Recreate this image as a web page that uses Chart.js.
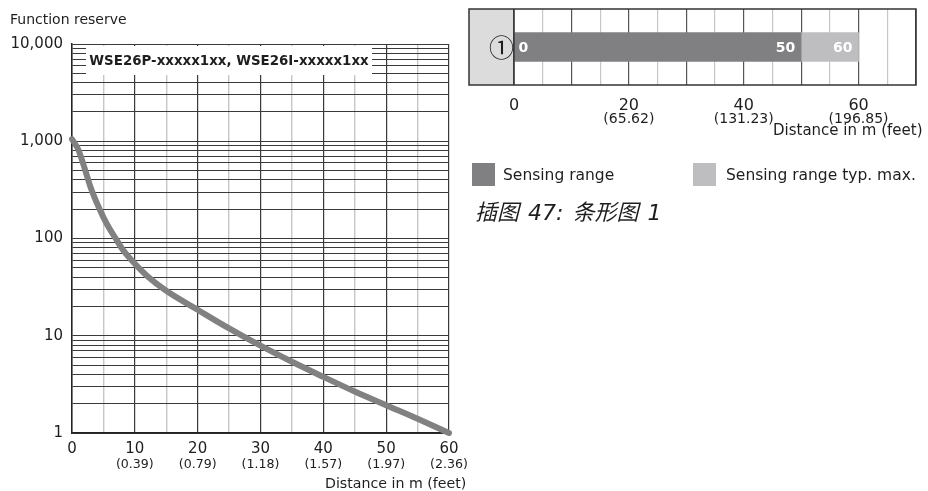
<!DOCTYPE html>
<html>
<head>
<meta charset="utf-8">
<script src="https://cdn.jsdelivr.net/npm/chart.js@4/dist/chart.umd.min.js"></script>
<style>
  body { margin: 0; background: #fff; font-family: "DejaVu Sans", sans-serif; color: #1e1e1e; }
  #wrap { position: relative; width: 928px; height: 491px; overflow: hidden; }
  .txt { position: absolute; white-space: nowrap; }
  .sq { position: absolute; width: 23px; height: 23px; }
</style>
</head>
<body>
<div id="wrap">
  <div style="position:absolute;left:0;top:0;width:480px;height:491px"><canvas id="reserveChart"></canvas></div>
  <div style="position:absolute;left:460px;top:0;width:468px;height:142px"><canvas id="rangeChart"></canvas></div>

  <div class="txt" style="left:10px;top:11px;font-size:14px;line-height:16px">Function reserve</div>
  <div class="txt" style="left:325px;top:475px;font-size:14.2px;line-height:16px">Distance in m (feet)</div>
  <div class="txt" style="left:773px;top:121px;font-size:15px;line-height:18px">Distance in m (feet)</div>

  <div class="sq" style="left:472px;top:163px;background:#808083"></div>
  <div class="txt" style="left:503px;top:166px;font-size:15.5px;line-height:18px">Sensing range</div>
  <div class="sq" style="left:693px;top:163px;background:#bebec1"></div>
  <div class="txt" style="left:726px;top:166px;font-size:15.5px;line-height:18px">Sensing range typ. max.</div>

  <div class="txt" style="left:475px;top:199px;font-size:22px;line-height:28px;font-style:italic;word-spacing:2px;font-family:'DejaVu Sans','Noto Sans CJK SC',sans-serif">插图 47: 条形图 1</div>
</div>

<script>
// ---- data ----
var distance = [0, 1, 2, 3, 4, 5, 6, 7, 8, 10, 12, 15, 20, 25, 30, 35, 40, 45, 50, 55, 60];
var reserve = [1050, 820, 530, 330, 228, 165, 125, 99, 78, 55, 41, 29, 18.5, 11.9, 7.9, 5.4, 3.78, 2.67, 1.93, 1.4, 1];

var yTickValues = [1, 10, 100, 1000, 10000];
var yTickLabels = ['1', '10', '100', '1,000', '10,000'];
var xTickValues = [0, 10, 20, 30, 40, 50, 60];
var xFeetLabels = ['', '(0.39)', '(0.79)', '(1.18)', '(1.57)', '(1.97)', '(2.36)'];

var rangeCategories = ['\u2460'];
var sensingRange = [0, 50];
var sensingRangeMax = [50, 60];
var rangeTickValues = [0, 20, 40, 60];
var rangeFeetLabels = ['', '(65.62)', '(131.23)', '(196.85)'];

var modelLabel = 'WSE26P-xxxxx1xx, WSE26I-xxxxx1xx';

var FONT = '"DejaVu Sans", "Noto Sans CJK SC", sans-serif';
var DARK = '#3a3a3a';
var LIGHT = '#c6c6c6';

function labelFor(values, labels, v) {
	var i = values.indexOf(v);
	return i < 0 ? '' : labels[i];
}

// log grid: 1..9 in every decade
var yGrid = [];
for (var d = 1; d < 10000; d *= 10) {
	for (var m = 1; m < 10; m++) yGrid.push(m * d);
}
yGrid.push(10000);

// white box with the model names
var modelBoxPlugin = {
	id: 'modelBox',
	afterDraw: function(chart) {
		var ctx = chart.ctx, a = chart.chartArea;
		ctx.save();
		ctx.fillStyle = '#fff';
		ctx.fillRect(a.left + 14, 46, 286, 29);
		ctx.fillStyle = '#1e1e1e';
		ctx.font = 'bold 13.4px ' + FONT;
		ctx.textBaseline = 'middle';
		ctx.textAlign = 'center';
		ctx.fillText(modelLabel, a.left + 14 + 143, 62);
		ctx.restore();
	}
};

new Chart(document.getElementById('reserveChart'), {
	type: 'line',
	data: {
		datasets: [{
			data: distance.map(function(x, i) { return { x: x, y: reserve[i] }; }),
			borderColor: '#818181',
			borderWidth: 6,
			borderCapStyle: 'round',
			pointRadius: 0,
			cubicInterpolationMode: 'monotone',
			clip: 4
		}]
	},
	options: {
		responsive: true,
		maintainAspectRatio: false,
		animation: false,
		layout: { padding: { left: 0, top: 44, right: 31, bottom: 0 } },
		plugins: { legend: { display: false }, tooltip: { enabled: false } },
		scales: {
			x: {
				type: 'linear', min: 0, max: 60,
				border: { color: '#222', width: 1.5 },
				grid: {
					drawTicks: false,
					color: function(c) { return c.tick.value % 10 === 0 ? DARK : LIGHT; },
					lineWidth: function(c) { return c.tick.value % 10 === 0 ? 1.2 : 1.4; }
				},
				ticks: {
					stepSize: 5, autoSkip: false, maxRotation: 0, padding: 7,
					color: '#1e1e1e', font: { family: FONT, size: 15 },
					callback: function(v) { return labelFor(xTickValues, xTickValues.map(String), v); }
				},
				afterFit: function(s) { s.height = 23; }
			},
			x2: {
				type: 'linear', position: 'bottom', min: 0, max: 60,
				border: { display: false },
				grid: { display: false, drawTicks: false },
				ticks: {
					stepSize: 5, autoSkip: false, maxRotation: 0, padding: 1,
					color: '#1e1e1e', font: { family: FONT, size: 12.6 },
					callback: function(v) { return labelFor(xTickValues, xFeetLabels, v); }
				},
				afterFit: function(s) { s.height = 35; }
			},
			y: {
				type: 'logarithmic', min: 1, max: 10000,
				border: { color: '#222', width: 1.5 },
				grid: { drawTicks: false, color: DARK, lineWidth: 1 },
				ticks: {
					autoSkip: false, padding: 9,
					color: '#1e1e1e', font: { family: FONT, size: 15 },
					callback: function(v) { return labelFor(yTickValues, yTickLabels, v); }
				},
				afterBuildTicks: function(s) {
					s.ticks = yGrid.map(function(v) { return { value: v }; });
				},
				afterFit: function(s) { s.width = 72; }
			}
		}
	},
	plugins: [modelBoxPlugin]
});

// grey index cell, frame and the value labels inside the bar
var rangeDecorPlugin = {
	id: 'rangeDecor',
	beforeDraw: function(chart) {
		var ctx = chart.ctx, a = chart.chartArea, ys = chart.scales.y;
		ctx.save();
		ctx.fillStyle = '#dcdcdc';
		ctx.fillRect(ys.left, a.top, a.left - ys.left, a.bottom - a.top);
		ctx.restore();
	},
	afterDraw: function(chart) {
		var ctx = chart.ctx, a = chart.chartArea, ys = chart.scales.y;
		ctx.save();
		ctx.strokeStyle = '#333';
		ctx.lineWidth = 1.5;
		ctx.strokeRect(ys.left, a.top, a.right - ys.left, a.bottom - a.top);
		ctx.beginPath();
		ctx.moveTo(a.left, a.top);
		ctx.lineTo(a.left, a.bottom);
		ctx.stroke();

		var b0 = chart.getDatasetMeta(0).data[0];
		var b1 = chart.getDatasetMeta(1).data[0];
		ctx.fillStyle = '#fff';
		ctx.font = 'bold 14px ' + FONT;
		ctx.textBaseline = 'middle';
		ctx.textAlign = 'left';
		ctx.fillText(String(sensingRange[0]), Math.min(b0.base, b0.x) + 4, b0.y + 1);
		ctx.textAlign = 'right';
		ctx.fillText(String(sensingRange[1]), Math.max(b0.base, b0.x) - 6, b0.y + 1);
		ctx.fillText(String(sensingRangeMax[1]), Math.max(b1.base, b1.x) - 6, b1.y + 1);
		ctx.restore();
	}
};

new Chart(document.getElementById('rangeChart'), {
	type: 'bar',
	data: {
		labels: rangeCategories,
		datasets: [{
			label: 'Sensing range',
			data: [sensingRange],
			backgroundColor: '#808083',
			grouped: false,
			barThickness: 29
		}, {
			label: 'Sensing range typ. max.',
			data: [sensingRangeMax],
			backgroundColor: '#bebec1',
			grouped: false,
			barThickness: 29
		}]
	},
	options: {
		indexAxis: 'y',
		responsive: true,
		maintainAspectRatio: false,
		animation: false,
		layout: { padding: { left: 9, top: 9, right: 12, bottom: 0 } },
		plugins: { legend: { display: false }, tooltip: { enabled: false } },
		scales: {
			x: {
				type: 'linear', min: 0, max: 70,
				border: { display: false },
				grid: {
					drawTicks: false,
					color: function(c) { return c.tick.value % 10 === 0 ? '#555' : LIGHT; },
					lineWidth: 1.2
				},
				ticks: {
					stepSize: 5, autoSkip: false, maxRotation: 0, padding: 11,
					color: '#1e1e1e', font: { family: FONT, size: 16 },
					callback: function(v) { return labelFor(rangeTickValues, rangeTickValues.map(String), v); }
				},
				afterFit: function(s) { s.height = 27; }
			},
			x2: {
				type: 'linear', position: 'bottom', min: 0, max: 70,
				border: { display: false },
				grid: { display: false, drawTicks: false },
				ticks: {
					stepSize: 5, autoSkip: false, maxRotation: 0, padding: -1,
					color: '#1e1e1e', font: { family: FONT, size: 14 },
					callback: function(v) { return labelFor(rangeTickValues, rangeFeetLabels, v); }
				},
				afterFit: function(s) { s.height = 30; }
			},
			y: {
				type: 'category',
				border: { display: false },
				grid: { display: false, drawTicks: false },
				ticks: {
					padding: 0, crossAlign: 'center',
					color: '#1e1e1e', font: { family: '"Noto Sans CJK SC", "DejaVu Sans", sans-serif', size: 25 }
				},
				afterFit: function(s) {
					s.width = 45;
					s.paddingTop = 0;
					s.paddingBottom = 0;
				}
			}
		}
	},
	plugins: [rangeDecorPlugin]
});
</script>
</body>
</html>
